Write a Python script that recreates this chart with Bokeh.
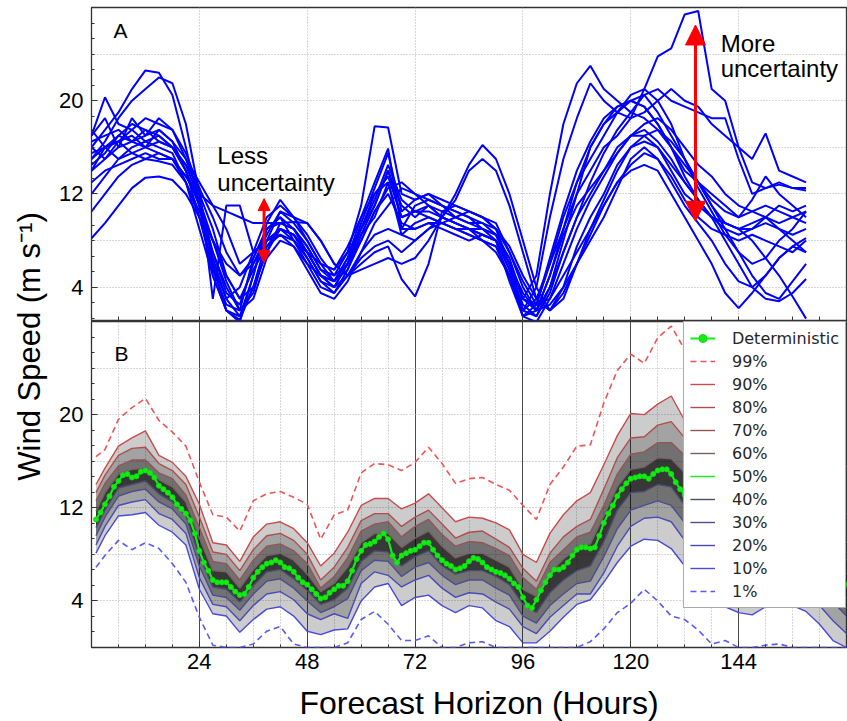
import math

from bokeh.plotting import figure
from bokeh.layouts import row, column
from bokeh.models import (Range1d, FixedTicker, Label, Arrow, NormalHead,
                          Legend, LegendItem)
from bokeh.embed import file_html
from bokeh.resources import INLINE

# ---------------------------------------------------------------- data
# Panel A: ensemble members, wind speed (m/s) every 3 hours (0 .. 159 h)
member_hours = list(range(0, 160, 3))

member_01 = [16.0, 17.5, 19.0, 21.0, 22.6, 22.4, 20.5, 16.0, 11.0, 5.0, 2.0, 1.5, 5.0, 9.0, 10.0, 8.0, 6.0, 5.0,
             4.0, 6.0, 9.0, 12.0, 13.5, 10.0, 10.5, 11.0, 10.0, 9.5, 9.0, 8.0, 7.0, 5.0, 2.0, 1.5, 4.0, 8.0,
             12.0, 16.0, 18.0, 19.5, 20.0, 19.5, 18.0, 16.0, 14.0, 13.0, 12.0, 11.0, 10.0, 10.5, 11.0, 10.5, 10.0, 10.5]
member_02 = [15.0, 16.5, 18.5, 20.0, 21.0, 22.0, 21.5, 18.0, 12.0, 6.0, 3.0, 4.0, 7.0, 8.0, 9.0, 8.5, 7.0, 5.0,
             4.5, 6.5, 10.0, 13.0, 15.9, 9.0, 11.0, 11.5, 11.0, 10.0, 9.5, 9.0, 8.5, 6.0, 2.0, 3.0, 6.0, 9.0,
             12.0, 14.0, 16.0, 17.0, 18.5, 21.0, 23.8, 24.5, 27.4, 27.7, 21.0, 20.0, 16.0, 13.0, 12.5, 12.8, 12.5, 12.3]
member_03 = [17.0, 20.3, 18.0, 17.5, 18.5, 18.0, 17.5, 15.0, 12.0, 9.0, 5.0, 3.0, 4.0, 7.0, 9.5, 9.0, 7.5, 5.5,
             5.0, 7.0, 9.0, 11.0, 14.0, 11.0, 10.0, 11.0, 10.5, 10.0, 9.5, 9.5, 8.5, 6.0, 3.0, 2.5, 6.0, 10.0,
             13.0, 15.0, 17.0, 19.0, 20.5, 21.0, 20.0, 18.0, 15.0, 13.0, 11.0, 9.5, 9.0, 9.5, 10.0, 9.0, 8.5, 9.0]
member_04 = [8.2, 9.5, 11.0, 12.5, 13.4, 13.5, 13.2, 12.0, 10.0, 7.0, 4.0, 2.0, 3.0, 6.5, 8.0, 7.5, 6.0, 4.0,
             3.5, 5.0, 7.0, 8.5, 9.0, 8.5, 8.0, 9.0, 10.0, 11.5, 14.0, 15.0, 14.0, 11.0, 7.0, 3.0, 2.0, 3.5,
             6.0, 8.0, 10.0, 12.5, 15.0, 16.0, 15.0, 13.0, 11.0, 9.5, 8.0, 6.0, 4.5, 4.0, 5.0, 6.5, 7.5, 8.2]
member_05 = [10.5, 12.0, 13.5, 14.5, 15.0, 14.8, 14.5, 13.0, 9.0, 5.0, 2.0, 1.2, 4.0, 8.0, 10.5, 9.5, 8.0, 6.0,
             4.5, 5.5, 8.0, 10.5, 12.0, 9.5, 9.0, 9.5, 9.0, 8.5, 8.0, 8.5, 8.0, 5.5, 2.5, 1.5, 3.5, 7.0,
             10.0, 12.0, 14.0, 16.0, 17.0, 17.5, 16.5, 15.0, 13.0, 11.5, 10.0, 8.0, 6.0, 4.0, 3.0, 2.8, 3.5, 4.7]
member_06 = [16.5, 17.0, 17.5, 16.5, 17.0, 17.5, 16.5, 14.0, 11.0, 8.0, 4.5, 2.0, 3.5, 7.5, 9.0, 8.5, 7.0, 5.0,
             4.5, 6.0, 8.5, 10.0, 13.0, 8.5, 9.5, 10.0, 9.5, 9.0, 8.5, 8.0, 7.5, 5.0, 1.5, 2.0, 5.0, 8.5,
             11.0, 12.5, 14.0, 15.5, 17.0, 18.0, 18.5, 17.5, 16.0, 14.5, 13.5, 12.0, 11.0, 10.5, 10.0, 9.5, 10.0, 9.5]
member_07 = [14.0, 15.0, 16.0, 16.5, 16.0, 16.5, 16.0, 14.5, 12.5, 10.0, 7.0, 5.0, 6.0, 8.5, 10.5, 10.0, 9.5, 8.0,
             6.0, 5.0, 6.0, 7.0, 7.5, 4.7, 3.2, 6.0, 10.5, 11.0, 10.5, 10.0, 9.5, 7.0, 4.0, 2.0, 2.5, 4.0,
             6.0, 8.5, 11.0, 13.0, 14.0, 14.5, 14.0, 12.0, 10.0, 8.0, 6.0, 3.5, 2.2, 3.5, 5.0, 6.5, 7.5, 7.0]
member_08 = [13.0, 14.0, 14.5, 15.0, 15.5, 15.0, 15.0, 13.5, 12.0, 11.0, 10.5, 10.0, 9.5, 9.5, 9.5, 9.6, 9.5, 8.0,
             6.0, 5.0, 5.5, 6.0, 6.5, 6.0, 6.5, 8.0, 10.0, 12.0, 14.5, 16.2, 15.0, 12.0, 8.0, 4.0, 2.0, 3.0,
             6.0, 9.0, 11.5, 14.0, 16.0, 17.0, 17.5, 16.5, 15.0, 13.0, 11.0, 9.0, 7.0, 5.0, 3.5, 3.0, 4.5, 6.0]
member_09 = [15.5, 16.0, 15.0, 16.0, 16.5, 16.0, 15.5, 13.0, 10.0, 6.0, 2.0, 1.0, 5.0, 9.5, 11.5, 10.0, 8.0, 6.0,
             5.5, 7.0, 11.0, 17.8, 17.7, 12.0, 11.5, 12.0, 11.5, 11.0, 10.5, 10.0, 9.0, 6.0, 3.0, 5.0, 12.0, 18.0,
             21.5, 23.0, 21.0, 20.0, 19.0, 18.5, 17.5, 16.0, 14.5, 13.0, 11.5, 10.5, 10.0, 11.5, 13.5, 12.0, 11.0, 10.0]
member_10 = [14.5, 15.5, 17.0, 16.5, 17.5, 17.0, 16.0, 14.5, 11.5, 7.0, 3.5, 2.5, 6.0, 8.0, 9.0, 8.0, 6.5, 4.5,
             4.0, 6.0, 9.5, 12.5, 15.5, 10.5, 11.5, 12.0, 11.0, 10.5, 10.0, 9.0, 8.0, 5.5, 2.0, 4.0, 10.0, 15.0,
             18.5, 21.5, 20.0, 19.0, 18.5, 19.0, 20.0, 21.0, 20.0, 19.5, 18.0, 17.0, 16.0, 15.0, 17.2, 14.0, 13.5, 13.0]
member_11 = [16.0, 15.0, 16.5, 17.0, 16.0, 17.5, 16.5, 15.0, 13.0, 11.0, 9.0, 6.0, 7.0, 10.0, 11.0, 10.0, 8.5, 6.5,
             5.0, 6.0, 8.0, 10.5, 12.5, 13.0, 12.0, 11.0, 10.0, 9.5, 9.0, 8.5, 8.0, 6.0, 3.5, 2.0, 4.0, 7.0,
             10.0, 13.0, 15.5, 17.5, 19.0, 20.5, 21.0, 20.0, 19.5, 19.0, 18.5, 18.5, 15.0, 12.0, 12.5, 13.0, 12.5, 12.5]
member_12 = [17.5, 16.0, 17.0, 18.0, 17.5, 16.5, 16.0, 14.0, 10.0, 5.5, 2.5, 2.0, 6.5, 9.0, 9.5, 9.0, 7.5, 5.5,
             4.5, 6.5, 9.0, 11.5, 14.5, 11.5, 10.5, 10.0, 9.5, 9.0, 8.5, 8.0, 7.5, 5.0, 1.5, 1.0, 3.0, 6.0,
             9.0, 11.5, 13.5, 15.5, 17.0, 17.0, 16.0, 14.0, 12.0, 11.0, 10.0, 9.5, 9.0, 8.0, 6.5, 5.0, 3.2, 1.3]
member_13 = [12.0, 13.5, 15.0, 15.5, 15.0, 15.5, 15.0, 13.5, 11.5, 8.0, 5.0, 3.0, 5.5, 7.5, 8.5, 7.5, 5.5, 3.5,
             3.0, 4.5, 7.0, 9.5, 11.0, 12.5, 12.0, 11.5, 11.0, 10.5, 10.0, 9.5, 9.0, 7.0, 4.5, 2.5, 3.0, 5.0,
             7.0, 9.0, 11.0, 13.0, 14.5, 15.5, 15.0, 13.5, 11.5, 10.0, 9.0, 8.5, 8.0, 8.5, 8.0, 7.5, 7.0, 8.0]
member_14 = [17.0, 18.5, 16.0, 18.5, 17.0, 18.5, 17.5, 15.5, 12.5, 3.0, 11.0, 11.0, 7.0, 8.0, 8.5, 8.0, 7.0, 6.0,
             5.5, 7.5, 10.0, 12.0, 13.0, 9.0, 9.0, 9.5, 9.5, 9.0, 9.0, 9.0, 8.5, 6.5, 3.0, 2.0, 5.0, 9.0,
             13.0, 16.0, 18.0, 19.0, 20.0, 20.5, 19.0, 17.0, 15.0, 12.5, 10.5, 8.5, 7.0, 6.0, 6.5, 8.0, 9.0, 10.5]
member_15 = [15.0, 16.0, 16.5, 15.5, 16.0, 15.5, 15.0, 13.0, 10.5, 8.0, 6.0, 5.0, 6.5, 9.0, 10.0, 9.0, 7.0, 5.0,
             4.0, 5.0, 6.5, 7.5, 8.0, 7.0, 8.0, 9.0, 9.5, 10.0, 10.5, 10.0, 9.0, 7.5, 5.0, 3.0, 2.0, 4.0,
             7.5, 10.0, 12.0, 14.5, 16.0, 16.5, 16.0, 14.5, 13.0, 11.5, 10.0, 9.0, 8.5, 9.0, 9.5, 9.0, 8.0, 7.0]
member_16 = [14.0, 16.0, 16.5, 17.5, 16.5, 17.0, 16.0, 14.0, 11.0, 6.5, 3.0, 1.5, 4.0, 7.0, 9.0, 8.5, 6.5, 4.5,
             3.5, 5.5, 8.5, 11.0, 14.0, 10.0, 10.5, 10.5, 10.0, 9.5, 9.0, 8.5, 8.0, 4.5, 1.5, 2.5, 6.5, 10.5,
             14.0, 16.5, 18.5, 19.5, 20.0, 19.5, 18.0, 16.0, 13.5, 11.5, 10.0, 9.5, 9.0, 9.0, 10.0, 11.0, 10.5, 11.0]

members = [member_01, member_02, member_03, member_04, member_05, member_06, member_07, member_08,
           member_09, member_10, member_11, member_12, member_13, member_14, member_15, member_16]

# Panel B: ensemble quantiles (m/s) at hour 1 and then every 3 hours to 168 h
quantile_hours = [1] + list(range(3, 169, 3))

q99 = [16.4, 17.0, 19.6, 20.6, 21.4, 19.5, 18.5, 17.3, 14.2, 11.4, 11.2, 10.0, 12.6, 13.2, 13.4, 12.9, 12.3, 9.3,
       11.4, 11.8, 15.0, 15.8, 15.7, 15.2, 15.9, 17.2, 15.8, 14.1, 14.5, 14.6, 14.0, 13.5, 12.2, 11.0, 14.0, 15.5,
       17.3, 17.4, 21.0, 23.8, 25.2, 24.4, 26.6, 27.6, 25.6, 25.0, 23.5, 22.0, 20.6, 19.8, 20.5, 20.0, 19.4, 19.0,
       18.2, 16.8, 15.5]
q90 = [14.0, 15.4, 17.3, 18.0, 18.6, 16.5, 15.9, 14.7, 12.3, 9.0, 8.8, 7.4, 9.5, 10.6, 10.8, 10.2, 9.0, 7.0,
       8.1, 9.9, 12.2, 12.8, 12.8, 11.9, 12.4, 13.2, 12.0, 10.8, 11.2, 11.1, 10.7, 10.1, 8.0, 7.3, 9.8, 11.4,
       12.6, 13.3, 15.7, 18.2, 20.1, 20.0, 20.9, 21.6, 19.5, 18.4, 17.2, 16.2, 15.3, 15.0, 15.6, 15.8, 15.4, 14.9,
       14.0, 12.6, 11.4]
q80 = [13.3, 14.8, 16.5, 17.1, 17.2, 15.8, 15.2, 14.0, 11.2, 8.2, 8.0, 6.6, 8.4, 9.6, 9.8, 9.2, 8.0, 5.8,
       6.9, 8.6, 10.9, 11.5, 11.5, 10.4, 11.2, 11.8, 10.6, 9.4, 9.9, 10.0, 9.3, 8.6, 6.8, 5.7, 8.1, 9.5,
       10.4, 11.0, 13.6, 16.3, 18.0, 18.1, 19.1, 19.4, 18.0, 16.2, 14.9, 13.8, 12.9, 12.6, 13.1, 13.4, 13.1, 12.6,
       11.6, 10.2, 9.0]
q70 = [12.6, 14.1, 15.6, 16.1, 16.1, 15.0, 14.5, 13.1, 10.3, 7.4, 7.2, 5.8, 7.5, 8.7, 8.9, 8.3, 7.2, 5.1,
       6.1, 7.7, 10.0, 10.6, 10.8, 9.5, 10.4, 11.0, 9.7, 8.7, 9.1, 9.0, 8.5, 7.9, 6.0, 5.0, 7.3, 8.4,
       9.5, 9.9, 12.2, 14.9, 16.6, 16.8, 17.6, 17.6, 16.5, 14.4, 13.0, 12.0, 11.2, 11.0, 11.4, 11.8, 11.5, 11.1,
       10.1, 8.7, 7.5]
q60 = [11.7, 13.3, 14.9, 15.3, 15.4, 14.4, 13.8, 12.5, 9.4, 6.6, 6.5, 5.1, 6.7, 7.9, 8.1, 7.5, 6.3, 4.8,
       5.5, 6.9, 9.0, 9.8, 9.8, 8.6, 9.4, 10.0, 8.7, 7.7, 8.1, 8.1, 7.5, 6.9, 5.0, 4.4, 6.4, 7.6,
       8.5, 8.9, 11.3, 13.8, 15.3, 15.5, 16.3, 16.2, 15.0, 12.9, 11.6, 10.6, 9.9, 9.7, 10.1, 10.5, 10.3, 9.9,
       8.9, 7.5, 6.3]
q40 = [10.3, 11.8, 13.7, 14.0, 14.3, 13.2, 12.5, 11.3, 7.8, 5.2, 5.0, 3.9, 5.3, 6.5, 6.7, 5.9, 4.9, 3.7,
       4.1, 5.1, 7.4, 8.3, 8.2, 7.0, 7.8, 8.3, 7.0, 6.3, 6.6, 6.6, 6.1, 5.4, 3.7, 3.0, 4.7, 5.8,
       6.6, 7.0, 9.1, 11.8, 13.3, 13.4, 14.0, 13.8, 12.2, 10.4, 9.1, 8.2, 7.6, 7.4, 7.8, 8.2, 8.0, 7.6,
       6.7, 5.4, 4.2]
q30 = [9.6, 11.2, 13.0, 13.4, 13.6, 12.5, 11.9, 10.6, 7.0, 4.5, 4.3, 3.2, 4.6, 5.7, 5.9, 5.1, 4.0, 3.0,
       3.5, 4.2, 6.6, 7.5, 7.4, 6.1, 6.9, 7.3, 6.2, 5.4, 5.8, 5.8, 5.1, 4.5, 2.7, 2.1, 3.6, 4.6,
       5.5, 5.7, 7.8, 10.2, 11.8, 12.2, 12.6, 12.2, 10.7, 8.9, 7.6, 6.7, 6.1, 5.9, 6.3, 6.7, 6.5, 6.1,
       5.2, 3.9, 2.7]
q20 = [8.8, 10.4, 12.2, 12.5, 12.7, 11.5, 11.0, 9.8, 6.0, 3.7, 3.5, 2.3, 3.6, 4.6, 4.8, 4.1, 2.9, 2.4,
       2.9, 2.5, 5.5, 6.5, 6.2, 5.2, 5.8, 6.2, 5.1, 4.3, 4.7, 4.6, 3.9, 3.3, 1.8, 1.2, 2.6, 3.6,
       4.6, 4.6, 6.4, 8.7, 10.4, 11.1, 11.2, 10.8, 9.2, 7.4, 6.0, 5.1, 4.6, 4.4, 4.9, 5.3, 5.0, 4.6,
       3.6, 2.3, 1.2]
q10 = [8.1, 9.6, 11.3, 11.4, 11.6, 10.5, 9.9, 8.8, 5.0, 2.9, 2.7, 1.3, 2.4, 3.3, 3.5, 2.7, 1.4, 1.1,
       1.5, 1.6, 4.0, 5.2, 5.5, 3.6, 4.3, 4.5, 3.6, 3.0, 3.6, 3.4, 2.3, 1.8, 0.4, 0.4, 1.4, 2.6,
       3.7, 4.1, 5.6, 7.3, 8.7, 9.3, 9.2, 8.5, 7.0, 5.4, 4.3, 3.5, 3.0, 2.8, 3.5, 3.8, 3.6, 3.1,
       2.0, 0.6, 0.0]
q01 = [6.9, 7.9, 9.2, 8.4, 9.0, 8.5, 7.2, 5.6, 2.6, 0.2, 0.0, 0.0, 0.3, 1.4, 1.8, 0.3, 0.0, 0.0,
       0.0, 0.4, 2.4, 3.1, 2.0, 0.6, 0.6, 1.0, 0.0, 0.0, 0.4, 0.5, 0.0, 0.0, 0.0, 0.0, 0.0, 0.0,
       0.0, 0.5, 1.6, 3.0, 3.8, 5.0, 4.0, 2.7, 2.4, 1.5, 0.3, 0.6, 0.0, 0.0, 0.2, 0.3, 0.0, 0.0,
       0.0, 0.0, 0.0]

# Deterministic (median) forecast, hourly from 1 to 168 h
det_hours = list(range(1, 169))
deterministic = [
    11.0, 11.6, 12.3, 13.0, 13.8, 14.3, 14.8, 14.9, 14.6, 14.7,
    15.1, 15.2, 15.0, 14.6, 13.9, 13.6, 13.3, 12.9, 12.3, 11.9,
    11.5, 10.9, 9.8, 8.3, 7.3, 6.6, 5.8, 5.6, 5.6, 5.6,
    5.2, 4.8, 4.5, 4.6, 5.2, 6.0, 6.5, 6.9, 7.2, 7.3,
    7.5, 7.3, 6.9, 6.8, 6.5, 6.0, 5.6, 5.4, 5.0, 4.6,
    4.2, 4.3, 4.7, 5.0, 5.3, 5.3, 5.7, 6.6, 7.6, 8.3,
    8.8, 8.9, 9.1, 9.5, 9.8, 9.3, 7.9, 7.3, 7.9, 8.1,
    8.3, 8.4, 8.7, 9.0, 9.0, 8.4, 7.9, 7.5, 7.2, 7.0,
    6.7, 6.8, 7.0, 7.4, 7.7, 7.6, 7.3, 6.9, 6.7, 6.5,
    6.4, 6.2, 5.9, 5.5, 5.2, 4.3, 3.6, 3.4, 4.1, 4.9,
    5.6, 6.2, 6.7, 6.7, 6.9, 7.3, 7.9, 8.4, 8.6, 8.6,
    8.5, 8.6, 9.6, 10.7, 11.5, 12.2, 13.0, 13.6, 14.1, 14.5,
    14.6, 14.7, 14.7, 14.5, 14.9, 15.2, 15.3, 15.3, 14.9, 14.2,
    13.6, 13.1, 12.5, 12.0, 11.6, 11.2, 10.8, 10.4, 10.1, 9.7,
    9.4, 9.2, 9.0, 8.8, 8.7, 8.6, 8.6, 8.7, 8.9, 9.0,
    9.2, 9.3, 9.4, 9.4, 9.3, 9.2, 9.0, 8.9, 8.7, 8.4,
    8.1, 7.8, 7.4, 7.0, 6.6, 6.2, 5.8, 5.4]

x_major = [24, 48, 72, 96, 120, 144]
x_minor = list(range(0, 169, 6))
y_major = [4, 12, 20]
y_grid = [4, 8, 12, 16, 20, 24]
y_minor = [k * 4.0 / 3.0 for k in range(0, 22)]

FONT = "Liberation Sans"
GRID_GRAY = "#b0b0b0"
FRAME = "#333333"
TITLE_W = 54          # width of the strip holding the vertical title
PANEL_W = 847 - TITLE_W
XTITLE_H = 40         # height of the strip holding the horizontal title


def style_panel(p):
    p.outline_line_color = FRAME
    p.outline_line_width = 1.3
    p.background_fill_color = "white"
    p.border_fill_color = "white"
    for ax in (p.xaxis[0], p.yaxis[0]):
        ax.axis_line_color = None
        ax.major_tick_in = 6
        ax.major_tick_out = 0
        ax.minor_tick_in = 3
        ax.minor_tick_out = 0
        ax.major_tick_line_color = FRAME
        ax.minor_tick_line_color = FRAME
        ax.major_label_text_font = FONT
        ax.major_label_text_font_size = "22px"
        ax.major_label_text_color = "black"
    p.yaxis.ticker = FixedTicker(ticks=y_major, minor_ticks=y_minor)
    p.yaxis.major_label_standoff = 8
    p.ygrid.ticker = FixedTicker(ticks=y_grid)
    p.ygrid.grid_line_color = GRID_GRAY
    p.ygrid.grid_line_dash = "1 2"
    p.ygrid.grid_line_width = 1


def text_label(x, y, txt, size):
    # the anchor is the lower edge of the text line box
    return Label(x=x, y=y, text=txt, text_font=FONT, text_font_size=size,
                 text_color="black", text_baseline="alphabetic")


# ---------------------------------------------------------------- panel A
pa = figure(width=PANEL_W, height=321, x_range=Range1d(0, 168), y_range=Range1d(1.14, 28),
            min_border_left=37, min_border_right=1, min_border_top=7, min_border_bottom=1,
            toolbar_location=None, output_backend="svg")
style_panel(pa)
# tick marks only along the shared edge (no labels)
pa.xaxis.ticker = FixedTicker(ticks=[], minor_ticks=x_minor)
pa.xaxis.minor_tick_in = 4
pa.xaxis.major_label_standoff = 0
pa.xgrid.ticker = FixedTicker(ticks=x_major)
pa.xgrid.grid_line_color = GRID_GRAY
pa.xgrid.grid_line_dash = "1 2"

for m in members:
    pa.line(member_hours, m, line_color="#0000ff", line_width=2)

pa.add_layout(text_label(4.9, 26.0, "A", "21px"))
pa.add_layout(text_label(28.0, 15.3, "Less", "24px"))
pa.add_layout(text_label(28.0, 13.0, "uncertainty", "24px"))
pa.add_layout(text_label(140.0, 24.95, "More", "24px"))
pa.add_layout(text_label(140.0, 22.8, "uncertainty", "24px"))

pa.add_layout(Arrow(start=NormalHead(size=12, fill_color="red", line_color="red"),
                    end=NormalHead(size=12, fill_color="red", line_color="red"),
                    x_start=38.4, y_start=6.1, x_end=38.4, y_end=11.6,
                    line_color="red", line_width=3))
pa.add_layout(Arrow(start=NormalHead(size=20, fill_color="red", line_color="red"),
                    end=NormalHead(size=20, fill_color="red", line_color="red"),
                    x_start=134.4, y_start=9.65, x_end=134.4, y_end=26.5,
                    line_color="red", line_width=3))

# ---------------------------------------------------------------- panel B
pb = figure(width=PANEL_W, height=721 - 321 - XTITLE_H, x_range=Range1d(0, 168), y_range=Range1d(0, 28),
            min_border_left=37, min_border_right=1, min_border_top=0,
            min_border_bottom=721 - 321 - XTITLE_H - 326,
            toolbar_location=None, output_backend="svg")
style_panel(pb)
pb.xaxis.ticker = FixedTicker(ticks=x_major, minor_ticks=x_minor)
pb.xaxis.major_label_standoff = 6
pb.xgrid.ticker = FixedTicker(ticks=x_major, minor_ticks=x_minor)
pb.xgrid.grid_line_color = "#4a4a4a"
pb.xgrid.grid_line_width = 1
pb.xgrid.minor_grid_line_color = GRID_GRAY
pb.xgrid.minor_grid_line_dash = "1 2"

# nested translucent bands
for lo, hi, a in ((q10, q90, 0.2), (q20, q80, 0.2), (q30, q70, 0.3), (q40, q60, 0.5)):
    pb.varea(x=quantile_hours, y1=lo, y2=hi, fill_color="black", fill_alpha=a)

r99 = pb.line(quantile_hours, q99, line_color="#ee5555", line_width=1.6, line_dash="6 4")
r90 = pb.line(quantile_hours, q90, line_color="#c84c4c", line_width=1.4)
r80 = pb.line(quantile_hours, q80, line_color="#b04e4e", line_width=1.4)
r70 = pb.line(quantile_hours, q70, line_color="#965454", line_width=1.4)
r60 = pb.line(quantile_hours, q60, line_color="#7a6262", line_width=1.4)
r40 = pb.line(quantile_hours, q40, line_color="#4c4c72", line_width=1.4)
r30 = pb.line(quantile_hours, q30, line_color="#4c4c94", line_width=1.4)
r20 = pb.line(quantile_hours, q20, line_color="#4a4ab6", line_width=1.4)
r10 = pb.line(quantile_hours, q10, line_color="#4a4ad8", line_width=1.4)
r01 = pb.line(quantile_hours, q01, line_color="#5a5aff", line_width=1.6, line_dash="6 4")

r50 = pb.line(det_hours, deterministic, line_color="#22ee22", line_width=1.5)
det_line = pb.line(det_hours, deterministic, line_color="#11ee11", line_width=2)
det_dots = pb.scatter(det_hours, deterministic, size=5, fill_color="#11ee11",
                      line_color="#11dd11")

pb.add_layout(text_label(5.1, 25.25, "B", "21px"))

legend = Legend(
    items=[LegendItem(label="Deterministic", renderers=[det_line, det_dots]),
           LegendItem(label="99%", renderers=[r99]),
           LegendItem(label="90%", renderers=[r90]),
           LegendItem(label="80%", renderers=[r80]),
           LegendItem(label="70%", renderers=[r70]),
           LegendItem(label="60%", renderers=[r60]),
           LegendItem(label="50%", renderers=[r50]),
           LegendItem(label="40%", renderers=[r40]),
           LegendItem(label="30%", renderers=[r30]),
           LegendItem(label="20%", renderers=[r20]),
           LegendItem(label="10%", renderers=[r10]),
           LegendItem(label="1%", renderers=[r01])],
    location="top_right", margin=0, padding=6, spacing=3,
    glyph_width=25, glyph_height=20, label_height=20, label_standoff=17,
    label_text_font="DejaVu Sans", label_text_font_size="16px", label_text_color="#262626",
    border_line_color="#555555", border_line_width=1,
    background_fill_color="white", background_fill_alpha=1.0)
pb.add_layout(legend)

# ---------------------------------------------------------------- shared titles
ytitle = figure(width=TITLE_W, height=721, x_range=Range1d(0, TITLE_W), y_range=Range1d(0, 721),
                x_axis_type=None, y_axis_type=None, min_border=0,
                toolbar_location=None, output_backend="svg")
ytitle.outline_line_color = None
ytitle.add_layout(Label(x=29, y=375, text="Wind Speed (m s\u207b\u00b9)", angle=math.pi / 2,
                        text_align="center", text_baseline="middle",
                        text_font=FONT, text_font_size="31px", text_color="black"))

xtitle = figure(width=PANEL_W, height=XTITLE_H, x_range=Range1d(0, PANEL_W),
                y_range=Range1d(0, XTITLE_H), x_axis_type=None, y_axis_type=None, min_border=0,
                toolbar_location=None, output_backend="svg")
xtitle.outline_line_color = None
xtitle.add_layout(Label(x=407, y=19, text="Forecast Horizon (Hours)",
                        text_align="center", text_baseline="middle",
                        text_font=FONT, text_font_size="32px", text_color="black"))

layout = row(ytitle, column(pa, pb, xtitle))

open("out.html", "w").write(file_html(layout, INLINE, title="Wind speed ensemble forecast"))
